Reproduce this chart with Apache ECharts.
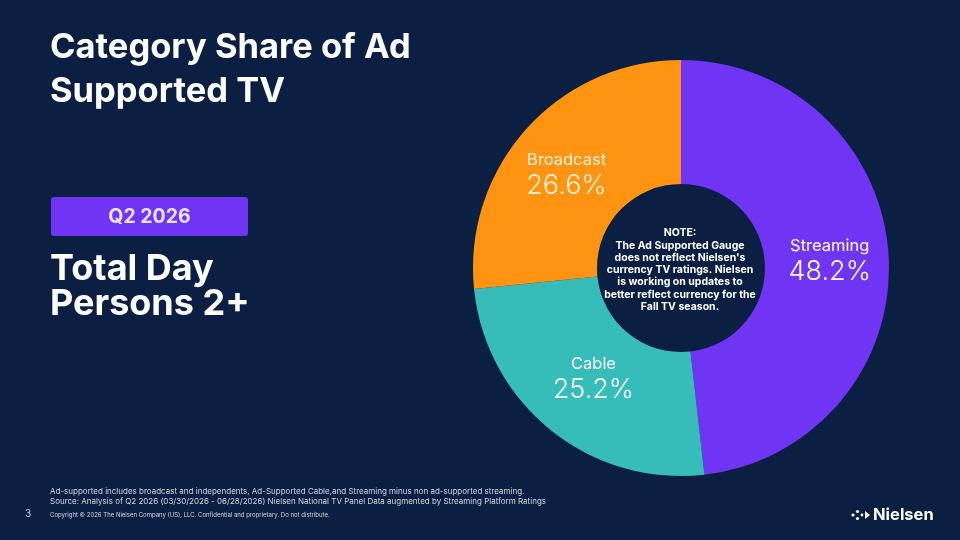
<!DOCTYPE html>
<html>
<head>
<meta charset="utf-8">
<script src="https://cdn.jsdelivr.net/npm/echarts@6/dist/echarts.min.js"></script>
<style>
html,body{margin:0;padding:0;background:#0b1f42;}
#chart{width:960px;height:540px;}
</style>
</head>
<body>
<div id="chart"></div>
<script>
const categories = ['Streaming', 'Cable', 'Broadcast'];
const shares = [48.2, 25.2, 26.6];
const sliceColors = ['#7034f4', '#36bcb9', '#ff9412'];
const labelColors = ['#ffffff', '#ffffff', '#fff1d8'];

const titleLines = 'Category Share of Ad\nSupported TV';
const periodText = 'Q2 2026';
const audienceText = 'Total Day\nPersons 2+';
const noteText = "NOTE:\nThe Ad Supported Gauge\ndoes not reflect Nielsen's\ncurrency TV ratings. Nielsen\nis working on updates to\nbetter reflect currency for the\nFall TV season.";
const footLine1 = 'Ad-supported includes broadcast and independents, Ad-Supported Cable,and Streaming minus non ad-supported streaming.';
const footLine2 = 'Source: Analysis of Q2 2026 (03/30/2026 - 06/28/2026) Nielsen National TV Panel Data augmented by Streaming Platform Ratings';
const copyright = 'Copyright \u00A9 2026 The Nielsen Company (US), LLC. Confidential and proprietary. Do not distribute.';
const pageNum = '3';
const brand = 'Nielsen';

const chart = echarts.init(document.getElementById('chart'), null, {renderer: 'canvas'});
const FONT = 'Inter, "Noto Sans", sans-serif';
const labelNudge = [[0, 1], [6, -5], [-4, 7]];

const pieData = categories.map((c, i) => ({
  name: c,
  value: shares[i],
  itemStyle: {color: sliceColors[i]},
  label: {
    offset: labelNudge[i],
    rich: {
      n: {fontSize: 16.5, color: labelColors[i], fontFamily: FONT, lineHeight: 22, align: 'center'},
      v: {fontSize: 27, color: labelColors[i], fontFamily: FONT, fontWeight: 300, lineHeight: 30, align: 'center'}
    }
  }
}));

chart.setOption({
  backgroundColor: '#0b1f42',
  animation: false,
  series: [{
    type: 'pie',
    center: [681, 268],
    radius: [84, 208],
    startAngle: 90,
    clockwise: true,
    silent: true,
    label: {
      show: true,
      position: 'inside',
      formatter: p => '{n|' + p.name + '}\n{v|' + p.value.toFixed(1) + '%}'
    },
    labelLine: {show: false},
    itemStyle: {borderWidth: 0},
    data: pieData
  }],
  graphic: [
    {type: 'text', left: 50, top: 26, style: {text: titleLines, fill: '#ffffff', font: 'bold 34.5px ' + FONT, lineHeight: 44}},
    {type: 'rect', shape: {x: 51, y: 197, width: 197, height: 39, r: 3}, style: {fill: '#7034f4'}},
    {type: 'text', x: 149.5, y: 217, style: {text: periodText, fill: '#ece3ff', font: 'bold 19.5px ' + FONT, align: 'center', verticalAlign: 'middle'}},
    {type: 'text', left: 50, top: 251, style: {text: audienceText, fill: '#ffffff', font: 'bold 36px ' + FONT, lineHeight: 35}},
    {type: 'text', x: 680, y: 270, style: {text: noteText, fill: '#ffffff', font: 'bold 10.5px ' + FONT, lineHeight: 12.3, align: 'center', verticalAlign: 'middle'}},
    {type: 'text', x: 50, y: 492, style: {text: footLine1, fill: '#d0d6e2', font: '8px ' + FONT, verticalAlign: 'middle'}},
    {type: 'text', x: 50, y: 502, style: {text: footLine2, fill: '#d0d6e2', font: '8px ' + FONT, verticalAlign: 'middle'}},
    {type: 'text', x: 50, y: 515, style: {text: copyright, fill: '#d0d6e2', font: '6px ' + FONT, verticalAlign: 'middle'}},
    {type: 'text', x: 28, y: 514, style: {text: pageNum, fill: '#d0d6e2', font: '10px ' + FONT, align: 'center', verticalAlign: 'middle'}},
    {type: 'text', x: 873, y: 515, style: {text: brand, fill: '#ffffff', font: 'bold 16.5px ' + FONT, verticalAlign: 'middle'}},
    {type: 'circle', shape: {cx: 853, cy: 515, r: 1.6}, style: {fill: '#ffffff'}},
    {type: 'circle', shape: {cx: 857.5, cy: 511.5, r: 1.6}, style: {fill: '#ffffff'}},
    {type: 'circle', shape: {cx: 857.5, cy: 518.5, r: 1.6}, style: {fill: '#ffffff'}},
    {type: 'circle', shape: {cx: 862, cy: 515, r: 1.4}, style: {fill: '#ffffff'}},
    {type: 'polygon', shape: {points: [[865, 511], [870, 515], [865, 519]]}, style: {fill: '#ffffff'}}
  ]
});
</script>
</body>
</html>
